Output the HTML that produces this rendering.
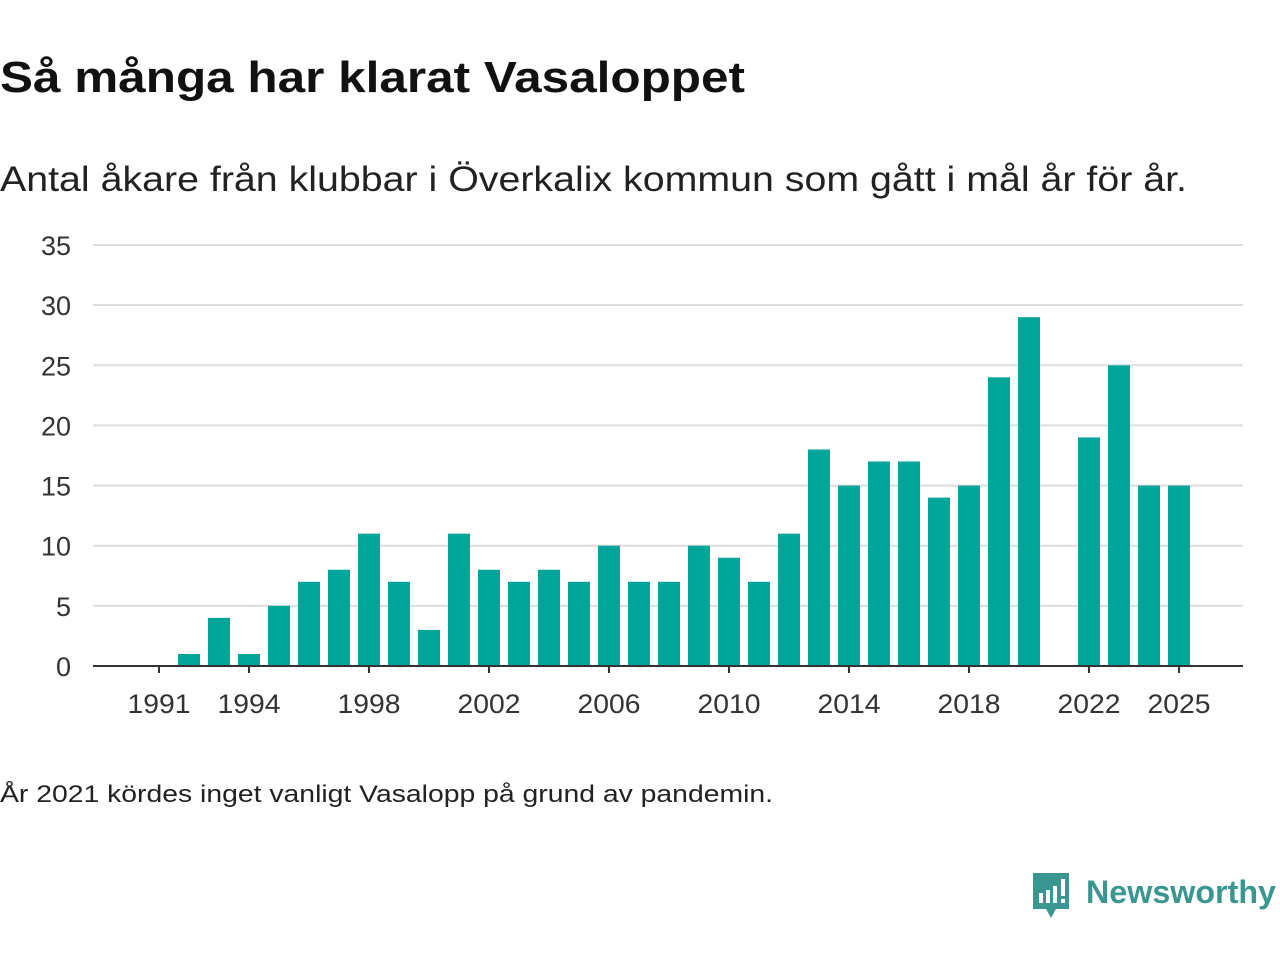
<!DOCTYPE html>
<html><head><meta charset="utf-8"><style>
body{margin:0;width:1280px;height:960px;background:#fff;font-family:"Liberation Sans",sans-serif;overflow:hidden}
svg text{font-family:"Liberation Sans",sans-serif}
</style></head><body>
<svg id="c" width="1280" height="960">
<text x="0" y="92" font-size="44" font-weight="bold" fill="#111" textLength="745" lengthAdjust="spacingAndGlyphs">Så många har klarat Vasaloppet</text>
<text x="0" y="191" font-size="35" fill="#222" textLength="1187" lengthAdjust="spacingAndGlyphs">Antal åkare från klubbar i Överkalix kommun som gått i mål år för år.</text>
<g id="grid"></g><g id="bars"></g><g id="xaxis"></g>
<text x="0" y="802" font-size="24" fill="#222" textLength="773" lengthAdjust="spacingAndGlyphs">År 2021 kördes inget vanligt Vasalopp på grund av pandemin.</text>
<g>
<path d="M1033 873h36v36h-13l-5 9-5-9h-13z" fill="#3a9690"/>
<rect x="1039" y="893" width="4" height="10" fill="#fff"/><rect x="1046" y="890" width="4" height="13" fill="#fff"/><rect x="1053" y="886" width="4" height="17" fill="#fff"/><rect x="1061" y="879" width="4" height="17" fill="#fff"/><rect x="1061" y="899" width="4" height="4" fill="#fff"/>
<text x="1086" y="903" font-size="32" font-weight="bold" fill="#3a9690" textLength="190" lengthAdjust="spacingAndGlyphs">Newsworthy</text>
</g>
</svg>
<script>
const years=[1991,1992,1993,1994,1995,1996,1997,1998,1999,2000,2001,2002,2003,2004,2005,2006,2007,2008,2009,2010,2011,2012,2013,2014,2015,2016,2017,2018,2019,2020,2021,2022,2023,2024,2025];
const values=[0,1,4,1,5,7,8,11,7,3,11,8,7,8,7,10,7,7,10,9,7,11,18,15,17,17,14,15,24,29,null,19,25,15,15];
const yTicks=[0,5,10,15,20,25,30,35];
const xTicks=[1991,1994,1998,2002,2006,2010,2014,2018,2022,2025];
const NS="http://www.w3.org/2000/svg";
const x=yr=>159+(yr-1991)*30;
const y=v=>666-v*(421/35);
function mk(t,a,p){const e=document.createElementNS(NS,t);for(const k in a)e.setAttribute(k,a[k]);p.appendChild(e);return e;}
const g=document.getElementById('grid');
yTicks.forEach(t=>{
 if(t>0){const l=mk('line',{x1:93,x2:1243,y1:y(t),y2:y(t),stroke:'#ddd','stroke-width':2},g);
 
 }
 const tx=mk('text',{x:71,y:y(t)+10,'font-size':27,fill:'#333','text-anchor':'end'},g);tx.textContent=t;
 
 
});
const b=document.getElementById('bars');
years.forEach((yr,i)=>{const v=values[i];if(v==null||v===0)return;
 const r=mk('rect',{x:x(yr)-11,y:y(v),width:22,height:666-y(v),fill:'#00a599'},b);
 
 
});
const xa=document.getElementById('xaxis');
const ax=mk('line',{x1:93,x2:1243,y1:666,y2:666,stroke:'#333','stroke-width':2},xa);


xTicks.forEach(t=>{
 const tk=mk('line',{x1:x(t),x2:x(t),y1:666,y2:673,stroke:'#333','stroke-width':2},xa);
 
 
 const tx=mk('text',{x:x(t),y:713,'font-size':27,fill:'#333','text-anchor':'middle',textLength:63,lengthAdjust:'spacingAndGlyphs'},xa);tx.textContent=t;
 
 
});
</script>
</body></html>
